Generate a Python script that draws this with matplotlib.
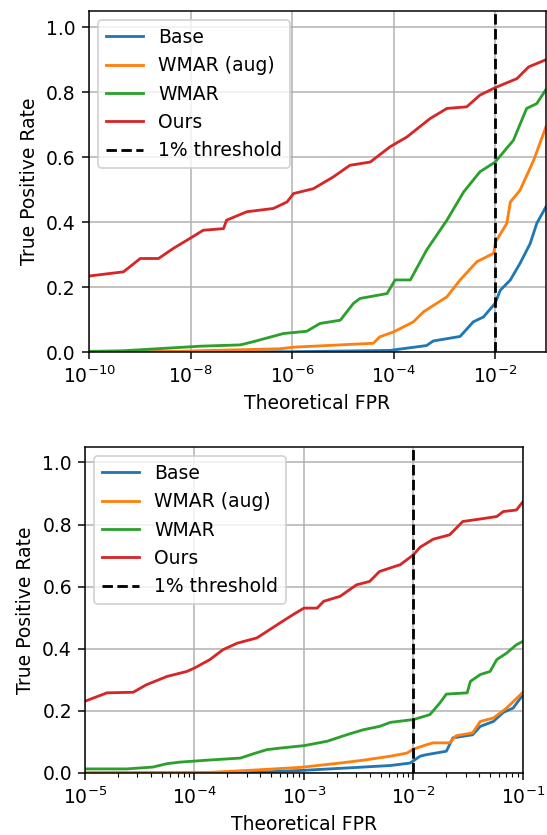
import matplotlib
matplotlib.use("Agg")
import matplotlib.pyplot as plt
import numpy as np
from matplotlib.ticker import LogLocator, NullLocator

# values; FPR given as log10 exponents
# --- top panel (FPR 1e-10 .. 1e-1)
top_ours_x = [-10, -9.32, -8.99, -8.63, -8.34, -8.01, -7.75, -7.35, -7.29, -6.89, -6.37, -6.10,
              -5.97, -5.58, -5.19, -4.86, -4.46, -4.07, -3.74, -3.28, -2.95, -2.56, -2.30, -2.0,
              -1.57, -1.34, -1.0]
top_ours_y = [0.234, 0.247, 0.288, 0.288, 0.319, 0.35, 0.375, 0.38, 0.406, 0.432, 0.442, 0.462,
              0.488, 0.503, 0.539, 0.575, 0.585, 0.632, 0.662, 0.719, 0.75, 0.755, 0.791, 0.814,
              0.842, 0.878, 0.90]
top_wmar_x = [-10, -9.32, -8.34, -7.81, -7.02, -6.76, -6.17, -5.71, -5.45, -5.05, -4.79, -4.66,
              -4.13, -3.97, -3.67, -3.35, -2.95, -2.62, -2.30, -2.0, -1.64, -1.38, -1.18, -1.0]
top_wmar_y = [0.002, 0.004, 0.013, 0.018, 0.022, 0.032, 0.057, 0.064, 0.088, 0.098, 0.15, 0.165,
              0.18, 0.222, 0.222, 0.314, 0.406, 0.493, 0.555, 0.585, 0.652, 0.75, 0.765, 0.808]
top_aug_x = [-10, -8.34, -6.24, -5.97, -4.40, -4.27, -4.0, -3.61, -3.41, -2.95, -2.69, -2.36,
             -2.03, -1.99, -1.77, -1.70, -1.51, -1.24, -1.0]
top_aug_y = [0.0, 0.002, 0.01, 0.015, 0.027, 0.047, 0.062, 0.093, 0.124, 0.17, 0.222, 0.278,
             0.304, 0.34, 0.396, 0.462, 0.498, 0.591, 0.693]
top_base_x = [-10, -6.0, -4.07, -3.35, -3.22, -2.69, -2.43, -2.23, -2.0, -1.90, -1.70, -1.51,
              -1.31, -1.18, -1.0]
top_base_y = [0.0, 0.001, 0.005, 0.02, 0.034, 0.048, 0.093, 0.108, 0.15, 0.19, 0.222, 0.273,
              0.334, 0.396, 0.447]

# --- bottom panel (FPR 1e-5 .. 1e-1)
bot_ours_x = [-5.0, -4.80, -4.56, -4.44, -4.25, -4.07, -4.0, -3.86, -3.74, -3.61, -3.43, -3.22,
              -3.10, -3.0, -2.88, -2.82, -2.67, -2.52, -2.40, -2.31, -2.12, -2.0, -1.94, -1.82,
              -1.67, -1.55, -1.39, -1.24, -1.18, -1.06, -1.0]
bot_ours_y = [0.231, 0.258, 0.26, 0.284, 0.311, 0.327, 0.338, 0.365, 0.397, 0.418, 0.435, 0.483,
              0.51, 0.531, 0.531, 0.553, 0.569, 0.606, 0.617, 0.649, 0.671, 0.703, 0.727, 0.753,
              0.767, 0.81, 0.818, 0.826, 0.842, 0.847, 0.874]
bot_wmar_x = [-5.0, -4.62, -4.38, -4.25, -4.13, -3.89, -3.58, -3.46, -3.34, -3.22, -3.0, -2.79,
              -2.61, -2.46, -2.31, -2.21, -2.0, -1.85, -1.76, -1.70, -1.51, -1.48, -1.39, -1.30,
              -1.24, -1.15, -1.06, -1.0]
bot_wmar_y = [0.013, 0.013, 0.019, 0.03, 0.035, 0.041, 0.048, 0.062, 0.075, 0.08, 0.088, 0.102,
              0.123, 0.139, 0.15, 0.163, 0.172, 0.188, 0.225, 0.254, 0.258, 0.295, 0.317, 0.327,
              0.365, 0.386, 0.413, 0.424]
bot_aug_x = [-5.0, -3.9, -3.52, -3.03, -2.67, -2.46, -2.21, -2.06, -2.0, -1.88, -1.82, -1.67,
             -1.61, -1.46, -1.39, -1.27, -1.15, -1.0]
bot_aug_y = [0.0, 0.001, 0.008, 0.018, 0.032, 0.041, 0.054, 0.064, 0.077, 0.091, 0.097, 0.097,
             0.12, 0.129, 0.166, 0.177, 0.209, 0.26]
bot_base_x = [-5.0, -3.52, -3.03, -2.61, -2.21, -2.03, -1.94, -1.88, -1.70, -1.64, -1.46, -1.39,
              -1.27, -1.18, -1.09, -1.0]
bot_base_y = [0.0, 0.001, 0.008, 0.016, 0.024, 0.032, 0.054, 0.059, 0.07, 0.113, 0.123, 0.15,
              0.166, 0.195, 0.209, 0.252]

labels = ["Base", "WMAR (aug)", "WMAR", "Ours"]
colors = ["#1f77b4", "#ff7f0e", "#2ca02c", "#d62728"]
threshold = 1e-2


def draw(ax, curves, xlim):
    for (xs, ys), lab, c in zip(curves, labels, colors):
        ax.plot(10.0 ** np.array(xs), ys, color=c, lw=1.5, label=lab)
    ax.axvline(threshold, color="black", ls="--", lw=1.5, label="1% threshold")
    ax.set_xscale("log")
    ax.set_xlim(*xlim)
    ax.set_ylim(0, 1.05)
    ax.grid(True)
    ax.set_xlabel("Theoretical FPR")
    ax.set_ylabel("True Positive Rate")
    ax.legend(loc="upper left")


fig = plt.figure(figsize=(547 / 135, 835 / 135), dpi=135)

ax1 = fig.add_axes([0.1627, 0.5784, 0.8353, 0.4084])
draw(ax1, [(top_base_x, top_base_y), (top_aug_x, top_aug_y),
           (top_wmar_x, top_wmar_y), (top_ours_x, top_ours_y)], (1e-10, 1e-1))
ax1.set_xticks([1e-10, 1e-8, 1e-6, 1e-4, 1e-2])
ax1.xaxis.set_minor_locator(NullLocator())

ax2 = fig.add_axes([0.1554, 0.0743, 0.8007, 0.3904])
draw(ax2, [(bot_base_x, bot_base_y), (bot_aug_x, bot_aug_y),
           (bot_wmar_x, bot_wmar_y), (bot_ours_x, bot_ours_y)], (1e-5, 1e-1))

fig.savefig("out.png", dpi=135)
